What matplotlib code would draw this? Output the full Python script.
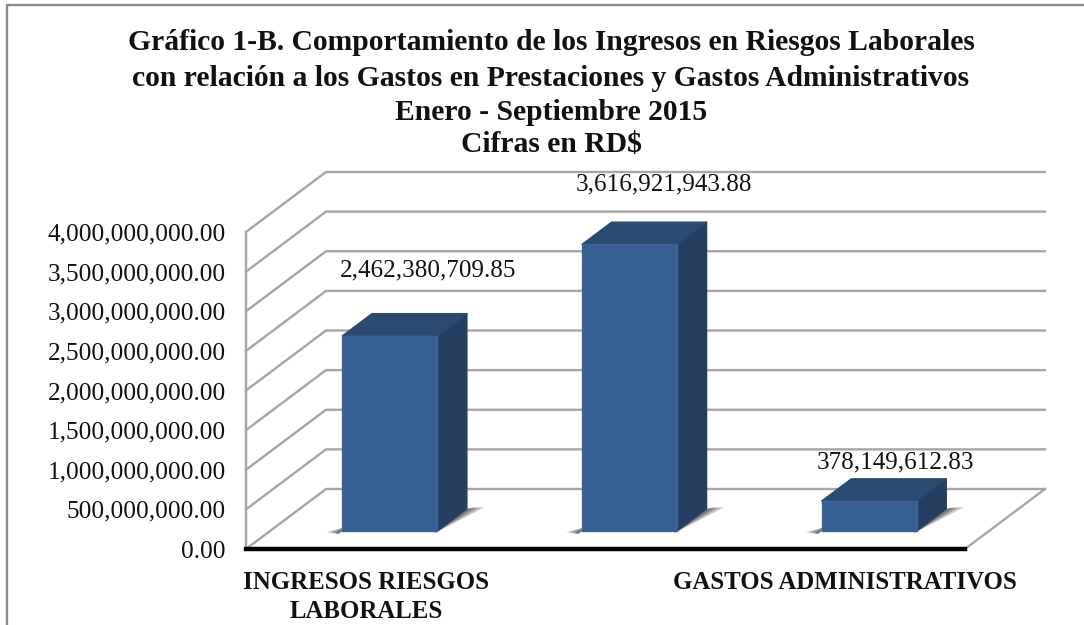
#!/usr/bin/env python3
# -*- coding: utf-8 -*-
import matplotlib
matplotlib.use('Agg')
import matplotlib.pyplot as plt
from matplotlib.lines import Line2D
from matplotlib.patches import Polygon

# datos
categorias = ['INGRESOS RIESGOS\nLABORALES', '', 'GASTOS ADMINISTRATIVOS']
valores = [2462380709.85, 3616921943.88, 378149612.83]
etiquetas = ['2,462,380,709.85', '3,616,921,943.88', '378,149,612.83']
ticks_y = [0, 500000000, 1000000000, 1500000000, 2000000000, 2500000000, 3000000000, 3500000000, 4000000000]
titulo = ['Gráfico 1-B. Comportamiento de los Ingresos en Riesgos Laborales',
          'con relación a los Gastos en Prestaciones y Gastos Administrativos',
          'Enero - Septiembre 2015',
          'Cifras en RD$']

plt.rcParams['font.family'] = ['Liberation Serif', 'DejaVu Serif']

W, H = 1084, 625
fig = plt.figure(figsize=(W / 100, H / 100), dpi=100)
ax = fig.add_axes([246 / W, 1 - 549 / H, (965 - 246) / W, (549 - 232) / H])
ax.set_xlim(0, 3)
ax.set_ylim(0, 4000000000)

# desplazamiento de la perspectiva (fondo del grafico), en unidades de datos
DX = 80 / (965 - 246) * 3
DY = 60 / (549 - 232) * 4000000000
D0, D1 = 0.30, 0.67
ANCHO = 0.396


def pr(x, y, d):
    return (x + d * DX, y + d * DY)


def poly(puntos, **kw):
    p = Polygon(puntos, closed=True, clip_on=False, **kw)
    ax.add_patch(p)


# paredes
gris = '#a6a6a6'
for t in ticks_y:
    ax.plot(*zip(pr(0, t, 0), pr(0, t, 1), pr(3, t, 1)), color=gris, lw=1.7, clip_on=False, zorder=1)
ax.plot(*zip(pr(0, 0, 0), pr(0, ticks_y[-1], 0)), color=gris, lw=1.7, clip_on=False, zorder=1)
ax.plot(*zip(pr(3, 0, 0), pr(3, 0, 1)), color=gris, lw=1.7, clip_on=False, zorder=1)

# barras
for i, v in enumerate(valores):
    x0 = i + 0.5 - ANCHO / 2
    x1 = i + 0.5 + ANCHO / 2
    # sombra
    for a, e in [(0.25, 0.066), (0.30, 0.046), (0.35, 0.026)]:
        poly([pr(x1, 0, D0 - 0.05), pr(x1 + e, 0, D1 + 0.03), pr(x1, 0, D1)],
             facecolor='#333333', edgecolor='none', alpha=a, zorder=2)
        poly([pr(x0 - e * 0.9, 0, D0 - 0.02), pr(x0, 0, D0 + 0.09), pr(x0, 0, D0 - 0.05)],
             facecolor='#333333', edgecolor='none', alpha=a, zorder=2)
    # lateral, tapa y frente
    poly([pr(x1, 0, D0), pr(x1, 0, D1), pr(x1, v, D1), pr(x1, v, D0)],
         facecolor='#243f60', edgecolor='#243f60', lw=1, joinstyle='round', zorder=3)
    poly([pr(x0, v, D0), pr(x1, v, D0), pr(x1, v, D1), pr(x0, v, D1)],
         facecolor='#2a4a70', edgecolor='#2a4a70', lw=1, joinstyle='round', zorder=3)
    poly([pr(x0, 0, D0), pr(x1, 0, D0), pr(x1, v, D0), pr(x0, v, D0)],
         facecolor='#376092', edgecolor='#3a6496', lw=1, joinstyle='round', zorder=4)

# etiquetas de valores
pos_etq = [0.76, 1.745, 2.71]
alto_etq = [1050000000, 985000000, 720000000]
for x, v, d, txt in zip(pos_etq, valores, alto_etq, etiquetas):
    ax.text(x, v + d, txt, ha='center', va='center', fontsize=18.1, color='#111111', clip_on=False)

# ejes
for lado in ['top', 'right', 'left']:
    ax.spines[lado].set_visible(False)
ax.spines['bottom'].set_linewidth(3.2)
ax.spines['bottom'].set_color('black')
ax.spines['bottom'].set_zorder(6)
ax.patch.set_visible(False)
ax.set_yticks(ticks_y)
ax.set_yticklabels(['{:,.2f}'.format(t) for t in ticks_y], fontsize=18.2, color='#111111')
ax.set_xticks([0.5, 1.5, 2.5])
ax.set_xticklabels(categorias, fontsize=17.9, fontweight='bold', color='#111111', linespacing=1.35)
ax.tick_params(axis='both', length=0)
ax.tick_params(axis='y', pad=14.5)
ax.tick_params(axis='x', pad=15.5)

# titulo
for txt, y in zip(titulo, [43, 79, 113, 145]):
    fig.text(551 / W, 1 - y / H, txt, ha='center', va='center', fontsize=21.3, fontweight='bold', color='#111111')

# marco (solo izquierda y arriba)
marco = '#8c8c8c'
fig.add_artist(Line2D([7 / W, 7 / W, 1], [0, 1 - 5 / H, 1 - 5 / H], color=marco, lw=1.7))

fig.savefig('out.png', dpi=100)
